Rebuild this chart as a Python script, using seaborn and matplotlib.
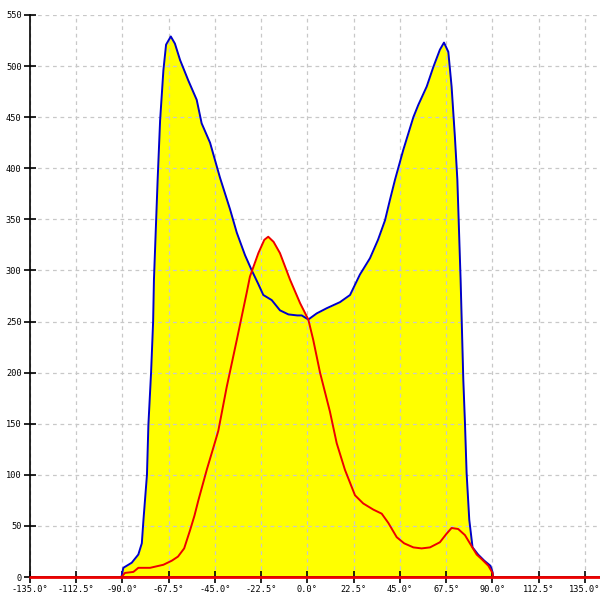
import numpy as np
import pandas as pd
import matplotlib
matplotlib.use("Agg")
import matplotlib.pyplot as plt
import seaborn as sns

# blue curve (angle in degrees, value)
blue_x = [-90.5, -89.6, -85.5, -82.3, -80.6, -79.8, -78.1, -77.4, -76.1, -75.1, -74.7,
          -72.9, -71.7, -70.1, -68.8, -66.5, -64.5, -62.0, -58.0, -53.9, -51.5, -47.4,
          -42.6, -37.7, -34.4, -30.4, -27.1, -24.0, -21.5, -17.4, -13.4, -9.3, -5.0,
          -2.8, 0.4, 4.5, 9.3, 15.8, 20.7, 25.5, 30.4, 34.3, 37.7, 40.1, 42.6, 46.6,
          51.5, 53.9, 58.0, 61.2, 64.4, 66.4, 68.5, 70.1, 71.7, 72.9, 74.5, 75.8, 76.6,
          77.4, 78.7, 80.3, 83.0, 86.0, 89.0, 90.0, 90.3]
blue_y = [0, 9, 14, 22, 33, 56, 100, 149, 200, 250, 291,
          389, 447, 496, 521, 529, 522, 506, 486, 467, 444, 425,
          391, 360, 337, 315, 300, 287, 276, 271, 261, 257, 256,
          256, 252, 258, 263, 269, 276, 296, 312, 330, 349, 369, 389, 418,
          450, 462, 480, 499, 516, 523, 514, 480, 431, 389, 290, 193, 151,
          102, 56, 29, 22, 16, 11, 5, 0]

# red curve
red_x = [-90.5, -88.8, -84.7, -82.3, -76.6, -70.1, -66.0, -63.0, -60.0, -57.1, -55.0,
         -53.1, -49.0, -45.0, -43.4, -39.3, -34.4, -29.6, -28.0, -23.9, -21.0, -19.1,
         -16.5, -13.4, -8.5, -3.6, 0.4, 2.8, 6.1, 10.9, 14.2, 18.2, 23.1, 27.1, 32.0,
         36.1, 39.3, 43.4, 47.0, 51.5, 55.5, 59.6, 64.4, 67.5, 70.1, 73.3, 76.6, 79.0,
         82.3, 85.0, 88.0, 90.0, 90.3]
red_y = [0, 4, 5, 9, 9, 12, 16, 20, 28, 46, 60,
         75, 105, 132, 143, 186, 232, 278, 294, 317, 330, 333,
         328, 317, 291, 268, 252, 232, 200, 162, 131, 105, 80, 72, 66,
         62, 53, 39, 33, 29, 28, 29, 34, 42, 48, 47, 41, 33,
         22, 17, 11, 4, 0]

x_ticks = np.arange(-135, 135.1, 22.5)
y_ticks = np.arange(0, 551, 50)

blue = pd.DataFrame({"angle": blue_x, "value": blue_y})
red = pd.DataFrame({"angle": red_x, "value": red_y})

sns.set_style("white")
plt.rcParams["font.family"] = ["DejaVu Sans Mono", "DejaVu Sans"]

fig = plt.figure(figsize=(6, 6), dpi=100)
ax = fig.add_axes([0.05, 0.0383, 0.95, 0.9367])

ax.fill_between(blue["angle"], blue["value"], color="#ffff00", lw=0, zorder=1)
ax.fill_between(red["angle"], red["value"], color="#ffff00", lw=0, zorder=1)
sns.lineplot(data=blue, x="angle", y="value", color="#0000cc", lw=1.4, sort=False,
             ax=ax, zorder=3)
sns.lineplot(data=red, x="angle", y="value", color="#ee0000", lw=1.4, sort=False,
             ax=ax, zorder=4)
ax.axhline(0, color="#ee0000", lw=2, zorder=7, clip_on=False)

ax.set_xlim(-135, 142.3)
ax.set_ylim(0, 550)
ax.set_xticks(x_ticks)
ax.set_xticklabels([f"{t:.1f}°" for t in x_ticks])
ax.set_yticks(y_ticks)
ax.set_yticklabels([str(t) for t in y_ticks])
ax.tick_params(axis="both", direction="inout", length=8, width=1.2, labelsize=6.2,
               colors="black", pad=2, bottom=True, left=True)
ax.set_xlabel("")
ax.set_ylabel("")

ax.grid(True, color="#c8c8c8", linestyle=(0, (3, 3)), lw=0.9)
ax.set_axisbelow(False)
for gl in ax.get_xgridlines() + ax.get_ygridlines():
    gl.set_zorder(2)

for s in ["top", "right"]:
    ax.spines[s].set_visible(False)
for s in ["left", "bottom"]:
    ax.spines[s].set_color("black")
    ax.spines[s].set_linewidth(1.2)
    ax.spines[s].set_zorder(6)

fig.savefig("out.png", dpi=100)
